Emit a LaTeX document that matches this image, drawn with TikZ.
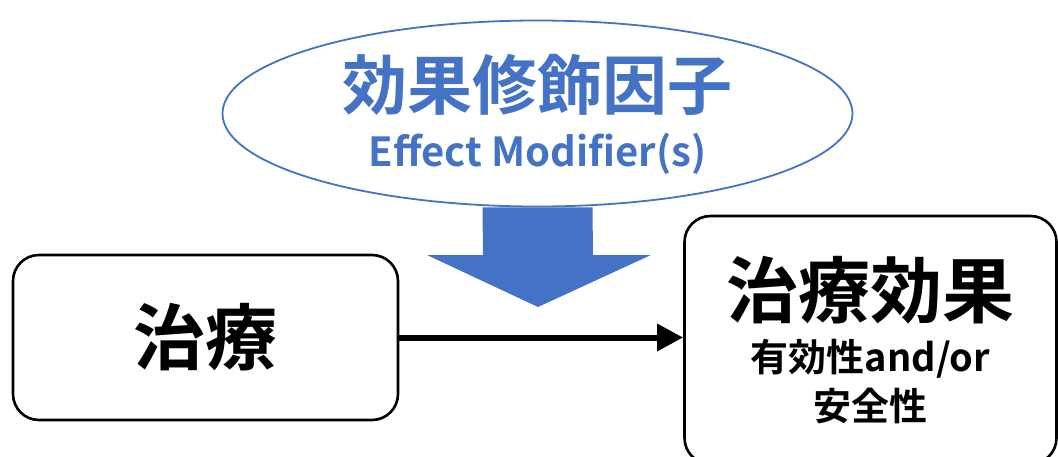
\documentclass[tikz,border=0pt]{standalone}
\usepackage{fontspec}
\usepackage{tikz}
\usetikzlibrary{shapes.geometric, positioning, arrows.meta}
\newfontfamily\jpfont{Noto Sans CJK JP}[BoldFont={Noto Sans CJK JP Bold}]
\definecolor{modblue}{HTML}{4472C4}
\tikzset{x=1pt, y=-1pt, % one unit is one pixel of the layout
every box/.style={ % Sets the properties for the two black boxes
draw=black, line width=2.6pt, rounded corners=26pt,
fill=white, align=center, inner sep=0pt,
font=\jpfont\bfseries},
modifier/.style={ % The blue ellipse on top
ellipse, draw=modblue, line width=1.8pt, fill=white,
inner sep=0pt, minimum width=630pt, minimum height=186pt},
modtext/.style={ % Its two lines of blue text
text=modblue, align=center, inner sep=0pt,
font=\jpfont\bfseries},
effect/.style={ % Black arrow from treatment to outcome
draw, line width=6pt,
-{Triangle[length=26pt, width=26pt]}}}

\begin{document}
\begin{tikzpicture}
    \useasboundingbox (0,0) rectangle (1058,456);

    \node[every box, minimum width=385pt, minimum height=165pt] (treat) at (205.5,337.5)
        {\fontsize{72}{80}\selectfont 治療};
    \node[every box, minimum width=372pt, minimum height=248pt] (outcome) at (870.5,340) {};
    \node[align=center, inner sep=0pt, font=\jpfont\bfseries] (outlabel) at (outcome.center)
        {\fontsize{72}{84}\selectfont 治療効果\\[14pt]
         \fontsize{38}{44}\selectfont 有効性and/or\\[8pt]
         \fontsize{38}{44}\selectfont 安全性};
    \node[modifier] (mod) at (537.5,113.5) {};
    \node[modtext] (modlabel) at ([yshift=-1pt]mod.center)
        {\fontsize{65}{72}\selectfont 効果修飾因子\\[16pt]
         \fontsize{40}{44}\selectfont Effect Modifier(s)};

    % blue block arrow under the ellipse
    \coordinate (tip) at (538,307);
    \fill[modblue] ([xshift=-55pt]mod.south) -- ([xshift=55pt]mod.south)
        -- (593,255) -- (651,255) -- (tip) -- (427,255) -- (483,255) -- cycle;

    \draw[effect] (treat.east) -- (outcome.west |- treat.east);

\end{tikzpicture}
\end{document}
